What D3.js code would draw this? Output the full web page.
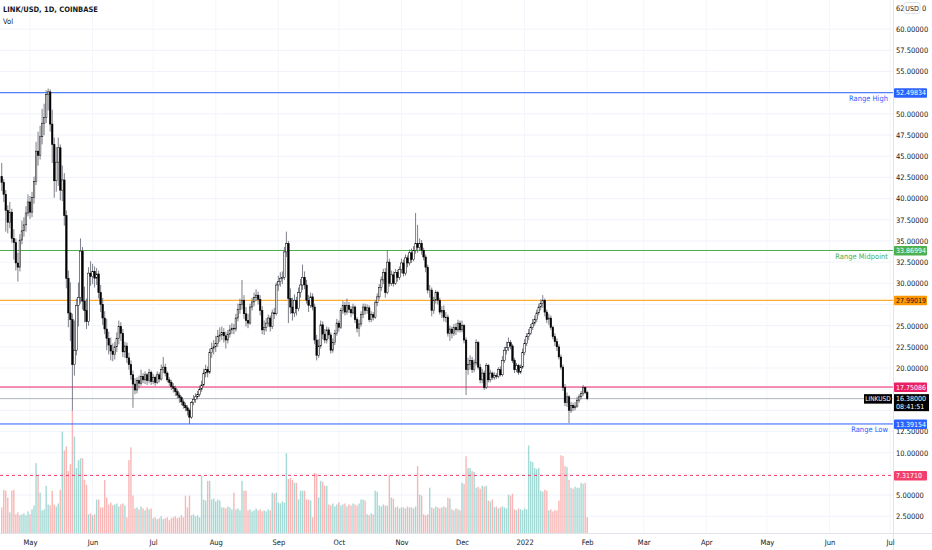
<!DOCTYPE html>
<html>
<head>
<meta charset="utf-8">
<script src="https://cdn.jsdelivr.net/npm/d3@7"></script>
<style>
  body { margin: 0; background: #fff; }
  svg text { font-family: "Liberation Sans Narrow", "DejaVu Sans Condensed", "Liberation Sans", sans-serif; }
</style>
</head>
<body>
<div id="chart"></div>
<script>
// LINK/USD daily candles, 17 Apr 2021 -> 1 Feb 2022
const firstDay = new Date(2021, 3, 17);
const firstOpen = 42.6;

const closes = [
  41.9, 40.5, 38.6, 37.2, 38.4, 35.3, 34.8, 32.4, 31.9, 35.1,
  36.2, 36.9, 38.3, 39.6, 38.4, 40.1, 42.0, 45.6, 45.1, 47.3,
  48.9, 49.6, 52.3, 52.6, 48.8, 46.4, 42.1, 44.3, 46.0, 41.0,
  42.2, 38.0, 30.6, 26.5, 25.7, 20.4, 22.1, 27.4, 28.3, 33.8,
  27.9, 26.8, 25.5, 31.2, 30.8, 31.4, 30.6, 31.1, 28.9, 27.5,
  25.9, 24.6, 23.5, 22.7, 22.0, 21.6, 22.5, 23.5, 24.9, 24.1,
  21.9, 22.6, 21.2, 20.4, 19.2, 18.1, 17.4, 18.5, 18.2, 19.0,
  18.6, 19.2, 18.5, 19.5, 18.4, 18.9, 18.3, 19.2, 18.7, 19.8,
  20.1, 19.4, 18.6, 18.3, 17.8, 17.6, 17.2, 16.8, 16.5, 16.0,
  15.6, 15.3, 15.0, 14.2, 15.9, 16.3, 16.6, 16.9, 17.5, 18.0,
  19.4, 19.8, 19.5, 21.8, 22.3, 22.5, 22.9, 23.7, 23.9, 24.2,
  23.8, 23.3, 24.0, 24.5, 24.7, 24.6, 25.9, 26.9, 27.5, 28.0,
  26.4, 25.6, 25.3, 27.2, 27.8, 28.3, 28.6, 28.1, 26.8, 24.5,
  24.8, 25.3, 25.9, 24.9, 26.5, 26.4, 29.8, 30.2, 30.6, 30.7,
  33.7, 34.7, 28.2, 27.2, 26.5, 28.0, 27.0, 28.9, 29.8, 30.7,
  29.8, 28.0, 27.4, 28.4, 27.2, 23.3, 21.5, 22.6, 25.1, 24.0,
  23.3, 24.5, 23.9, 22.1, 23.0, 24.1, 25.3, 24.8, 26.8, 27.4,
  26.6, 27.4, 26.9, 26.5, 27.2, 25.7, 24.7, 25.2, 26.3, 27.2,
  26.8, 27.1, 25.7, 26.3, 26.0, 27.7, 28.4, 29.5, 30.4, 31.3,
  28.9, 32.5, 30.0, 31.0, 30.0, 31.3, 30.7, 31.6, 32.4, 31.2,
  33.0, 32.4, 33.6, 32.8, 33.9, 34.7, 34.2, 34.7, 33.9, 33.1,
  31.9, 29.2, 29.2, 26.8, 28.0, 28.9, 28.0, 26.6, 26.8, 26.0,
  26.0, 24.1, 24.6, 24.1, 24.8, 24.5, 25.3, 24.5, 25.0, 23.3,
  19.8, 20.4, 20.9, 19.8, 20.6, 23.0, 20.1, 18.6, 19.4, 17.7,
  20.3, 18.6, 19.4, 18.9, 19.1, 19.0, 19.8, 19.2, 20.9, 22.1,
  22.4, 23.0, 22.6, 20.9, 19.8, 20.3, 19.5, 20.1, 21.8, 22.9,
  23.7, 24.1, 24.8, 25.3, 25.7, 26.5, 27.2, 27.6, 28.0, 26.6,
  25.7, 25.9, 24.8, 23.7, 23.1, 22.5, 21.3, 20.1, 17.7, 15.9,
  16.6, 15.0, 15.6, 15.3, 15.5, 16.2, 16.6, 17.0, 17.7, 17.1, 16.38
];

const highs = [
  44.2, 42.3, 41.0, 39.2, 39.6, 38.8, 36.4, 35.3, 33.6, 35.8,
  37.4, 37.8, 39.1, 40.5, 40.3, 40.8, 42.6, 46.7, 47.9, 48.6,
  50.6, 51.2, 52.8, 53.0, 52.9, 50.5, 47.2, 46.1, 47.2, 46.4,
  43.9, 43.0, 38.6, 31.5, 30.1, 26.4, 25.6, 28.2, 30.1, 35.3,
  34.3, 29.6, 28.2, 31.9, 32.6, 32.3, 32.0, 31.8, 31.5, 29.8,
  28.3, 26.7, 25.8, 24.3, 23.6, 22.9, 23.1, 24.2, 25.6, 25.4,
  24.6, 23.1, 23.0, 21.8, 20.9, 19.7, 18.8, 18.9, 19.1, 19.8,
  19.4, 19.6, 19.4, 19.9, 19.7, 19.3, 19.1, 19.6, 19.5, 20.4,
  21.3, 20.5, 19.6, 18.9, 18.6, 18.2, 17.9, 17.5, 17.1, 16.7,
  16.3, 15.9, 15.6, 15.2, 16.1, 16.8, 17.0, 17.3, 17.9, 18.5,
  19.9, 20.4, 20.2, 22.3, 23.0, 23.3, 23.8, 24.5, 24.8, 24.9,
  24.7, 24.3, 24.5, 25.1, 25.3, 25.2, 26.4, 27.6, 28.2, 30.4,
  28.6, 27.2, 26.4, 27.6, 28.3, 28.9, 29.3, 29.0, 28.6, 27.3,
  25.6, 25.9, 26.3, 26.2, 26.9, 27.1, 30.1, 30.9, 31.3, 31.4,
  34.3, 36.1, 35.0, 29.4, 28.3, 28.7, 28.4, 29.5, 30.5, 32.2,
  31.4, 30.4, 28.6, 28.9, 28.8, 27.6, 23.9, 23.4, 25.6, 25.5,
  24.6, 24.9, 24.8, 24.2, 23.5, 24.5, 25.8, 25.6, 27.1, 27.9,
  27.8, 28.2, 27.8, 27.3, 27.6, 27.4, 26.0, 25.7, 26.7, 27.6,
  27.6, 27.5, 27.4, 26.7, 26.6, 28.0, 28.8, 29.9, 30.8, 31.7,
  31.8, 33.9, 32.9, 31.5, 31.4, 31.7, 31.6, 32.0, 32.9, 32.8,
  33.4, 33.3, 34.0, 34.1, 34.4, 38.3, 36.9, 35.3, 35.1, 34.2,
  33.4, 32.2, 29.8, 29.5, 28.4, 29.2, 29.1, 28.3, 27.3, 27.4,
  26.6, 26.3, 25.0, 24.9, 25.2, 25.3, 25.7, 25.6, 25.6, 25.2,
  23.6, 21.2, 21.5, 21.3, 21.0, 23.4, 23.2, 20.5, 19.9, 19.7,
  20.6, 20.5, 19.8, 19.6, 19.5, 19.4, 20.1, 20.2, 21.4, 22.5,
  23.1, 23.6, 23.3, 22.8, 21.2, 20.6, 20.5, 20.4, 22.3, 23.4,
  24.1, 24.6, 25.2, 25.8, 26.2, 26.9, 27.6, 28.1, 28.6, 28.2,
  26.9, 26.4, 26.2, 25.0, 24.1, 23.5, 22.8, 21.6, 20.4, 18.1,
  17.1, 16.8, 16.0, 15.9, 16.0, 16.6, 16.9, 17.3, 18.0, 17.8, 17.3
];

const lows = [
  40.9, 39.6, 36.1, 35.9, 36.5, 34.8, 32.8, 31.5, 30.2, 31.4,
  34.6, 35.5, 36.1, 37.9, 37.6, 37.8, 39.4, 41.6, 43.9, 44.6,
  46.4, 47.5, 48.9, 50.4, 47.9, 44.2, 40.1, 40.8, 41.5, 39.8,
  39.7, 36.8, 29.4, 24.8, 23.2, 15.0, 19.1, 21.5, 24.9, 27.6,
  26.9, 25.4, 24.6, 25.0, 29.7, 29.9, 29.5, 29.8, 28.2, 26.6,
  25.1, 24.0, 22.1, 21.6, 20.9, 20.8, 21.0, 21.9, 22.8, 23.2,
  21.3, 21.2, 20.6, 19.8, 18.6, 15.3, 16.9, 17.0, 17.6, 17.9,
  18.2, 18.1, 18.0, 18.2, 18.0, 18.1, 17.9, 18.1, 18.3, 18.5,
  19.4, 19.0, 18.3, 17.9, 17.4, 17.1, 16.7, 16.4, 15.9, 15.6,
  15.2, 14.9, 14.4, 13.4, 14.0, 15.6, 15.9, 16.3, 16.6, 17.2,
  17.8, 18.9, 18.9, 19.3, 21.2, 21.6, 21.9, 22.5, 23.1, 23.3,
  23.0, 22.3, 22.9, 23.6, 24.0, 24.0, 24.3, 25.5, 26.4, 26.9,
  25.8, 24.9, 24.7, 25.1, 26.8, 27.3, 27.9, 27.5, 26.2, 24.0,
  23.9, 24.3, 24.9, 24.3, 24.6, 25.8, 26.2, 29.1, 29.6, 29.9,
  30.4, 33.1, 25.3, 26.4, 25.6, 26.0, 26.2, 26.7, 28.3, 29.2,
  29.3, 27.6, 26.6, 27.1, 26.8, 22.8, 20.9, 21.2, 22.3, 23.4,
  22.9, 22.9, 23.4, 21.7, 21.8, 22.7, 23.8, 24.3, 24.6, 26.4,
  26.2, 26.3, 26.5, 26.0, 26.3, 25.3, 24.2, 23.7, 24.9, 25.9,
  26.3, 26.4, 25.4, 25.4, 25.6, 25.8, 27.3, 28.1, 29.1, 29.9,
  28.3, 28.7, 29.6, 29.7, 29.6, 29.8, 30.2, 30.4, 31.2, 30.8,
  30.9, 31.9, 32.1, 32.4, 32.6, 33.5, 33.6, 33.8, 33.4, 32.7,
  31.3, 28.8, 28.3, 26.1, 26.4, 27.6, 27.5, 26.3, 25.9, 25.5,
  25.4, 23.7, 23.2, 23.5, 23.8, 23.9, 24.2, 24.2, 24.2, 22.9,
  16.8, 19.2, 19.8, 19.4, 19.5, 20.3, 19.8, 18.2, 18.2, 17.4,
  17.5, 18.3, 18.3, 18.6, 18.6, 18.7, 18.8, 19.0, 19.0, 20.6,
  21.6, 22.0, 22.2, 20.6, 19.4, 19.5, 19.2, 19.3, 19.9, 21.5,
  22.6, 23.3, 23.9, 24.5, 25.0, 25.4, 26.2, 26.8, 27.1, 26.1,
  25.3, 25.1, 24.5, 23.4, 22.6, 22.0, 21.0, 19.8, 17.3, 15.5,
  15.4, 13.5, 14.7, 14.9, 15.0, 15.3, 15.9, 16.3, 16.7, 16.9, 16.2
];

// volume, millions
const volumes = [
  2.6, 4.4, 4.3, 3.6, 2.1, 4.3, 4.4, 1.9, 2.1, 1.8,
  1.9, 2.0, 1.8, 2.2, 1.9, 2.4, 2.8, 7.1, 5.9, 4.1,
  2.3, 2.4, 4.8, 2.9, 2.8, 4.3, 2.9, 2.7, 3.0, 4.4,
  10.3, 8.4, 8.8, 6.3, 7.0, 12.5, 9.8, 6.6, 7.4, 7.6,
  7.6, 5.4, 4.9, 1.9, 2.0, 1.8, 1.9, 3.4, 3.4, 2.6,
  2.6, 5.4, 3.6, 2.9, 3.1, 2.8, 2.9, 3.0, 2.7, 2.9,
  3.0, 2.8, 1.6, 7.4, 8.7, 3.8, 2.5, 2.6, 2.4, 2.7,
  2.5, 2.3, 2.6, 2.4, 2.5, 1.5, 1.6, 1.4, 1.5, 1.7,
  1.4, 1.5, 1.6, 1.3, 1.5, 1.6, 1.7, 1.5, 1.6, 1.8,
  1.6, 3.8, 2.6, 3.8, 1.8, 1.9, 1.7, 1.8, 1.6, 5.8,
  3.4, 3.3, 5.3, 5.3, 3.4, 3.5, 3.2, 3.4, 3.3, 2.6,
  2.6, 2.5, 2.7, 2.6, 2.4, 4.1, 2.4, 2.5, 2.3, 5.3,
  4.3, 4.3, 2.3, 2.4, 2.2, 2.3, 2.5, 2.3, 2.4, 2.2,
  2.3, 2.2, 2.4, 2.3, 4.1, 4.0, 4.1, 3.1, 3.0, 3.2,
  3.1, 8.1, 5.5, 5.6, 5.4, 5.1, 5.1, 3.4, 4.3, 4.3,
  4.3, 3.4, 3.4, 3.3, 1.6, 6.1, 6.0, 3.6, 5.3, 5.2,
  4.8, 4.8, 2.9, 2.8, 3.0, 2.7, 2.9, 3.1, 2.8, 2.9,
  3.0, 2.7, 2.9, 2.8, 3.0, 2.9, 2.8, 3.0, 3.4, 3.4,
  3.3, 1.9, 1.8, 2.0, 1.9, 4.3, 4.2, 2.8, 2.7, 2.9,
  2.8, 2.8, 5.9, 3.6, 3.5, 2.6, 2.7, 2.5, 2.6, 2.6,
  2.5, 2.7, 2.6, 2.6, 2.5, 2.7, 6.8, 3.9, 3.8, 1.9,
  1.8, 1.9, 4.6, 2.6, 2.5, 2.7, 2.6, 2.5, 2.6, 2.7,
  2.6, 3.6, 3.5, 2.4, 2.3, 2.5, 2.4, 2.3, 5.1, 5.0,
  7.8, 6.6, 6.6, 6.3, 6.2, 4.6, 4.7, 4.5, 4.8, 4.7,
  4.8, 3.3, 3.2, 3.4, 2.6, 2.7, 2.5, 2.6, 2.7, 2.6,
  2.5, 3.9, 3.8, 4.0, 2.4, 2.3, 2.5, 2.4, 2.3, 2.5,
  2.4, 8.9, 7.3, 7.2, 6.6, 6.5, 6.6, 4.3, 4.2, 4.4,
  4.3, 2.3, 2.4, 2.2, 2.3, 2.3, 3.3, 7.9, 7.8, 6.8,
  6.7, 5.4, 4.6, 4.5, 4.7, 4.6, 4.6, 5.1, 5.0, 5.1, 1.6
];

// horizontal levels drawn on the chart
const levelValues = [52.49834, 33.86994, 27.99019, 17.75086, 13.39154, 7.31710];
const levelNames  = ["Range High", "Range Midpoint", "", "", "Range Low", ""];
const lastPrice = 16.38;
const countdown = "08:41:51";
// axis ticks (ones hidden behind the coloured price tags are left out)
const yTicks = [2.5, 5, 10, 12.5, 20, 22.5, 25, 30, 32.5, 35,
                37.5, 40, 42.5, 45, 47.5, 50, 55, 57.5, 60];
const gridTicks = [2.5, 5, 7.5, 10, 12.5, 15, 17.5, 20, 22.5, 25, 27.5, 30, 32.5, 35,
                   37.5, 40, 42.5, 45, 47.5, 50, 52.5, 55, 57.5, 60];

const levelColors = ["#2962ff", "#4caf50", "#ff9800", "#e91e63", "#2962ff", "#f23f6c"];

const width = 932, height = 550;
const plotRight = 893, plotBottom = 533;

const data = closes.map((c, i) => {
  const open = i === 0 ? firstOpen : closes[i - 1];
  return {date: d3.timeDay.offset(firstDay, i), open: open, close: c,
          high: highs[i], low: lows[i], vol: volumes[i]};
});

const svg = d3.select("#chart").append("svg")
  .attr("width", width).attr("height", height);

svg.append("rect").attr("width", width).attr("height", height).attr("fill", "#fff");

const x = d3.scaleTime()
  .domain([new Date(2021, 4, 1), new Date(2022, 6, 1)])
  .range([30, 890]);
const y = d3.scaleLinear().domain([0, 62.5]).range([537.4, 8]);
const yVol = d3.scaleLinear().domain([0, 12.5]).range([plotBottom, 410]);

const months = d3.timeMonth.range(new Date(2021, 4, 1), new Date(2022, 6, 2));

// grid
const grid = svg.append("g");
grid.selectAll(".hg").data(gridTicks).join("line")
  .attr("x1", 0).attr("x2", plotRight)
  .attr("y1", d => y(d)).attr("y2", d => y(d))
  .attr("stroke", "#f0f3fa").attr("stroke-width", 1);
grid.selectAll(".vg").data(months).join("line")
  .attr("x1", d => x(d)).attr("x2", d => x(d))
  .attr("y1", 0).attr("y2", plotBottom)
  .attr("stroke", "#f4f6fb").attr("stroke-width", 1);

// volume
const bw = 1.4;
svg.append("g").selectAll("rect").data(data).join("rect")
  .attr("x", d => x(d.date) - bw / 2)
  .attr("width", bw)
  .attr("y", d => yVol(d.vol))
  .attr("height", d => plotBottom - yVol(d.vol))
  .attr("fill", d => d.close >= d.open ? "#26a69a" : "#ef5350")
  .attr("opacity", 0.42);

// levels
const lv = svg.append("g");
levelValues.forEach((v, i) => {
  lv.append("line")
    .attr("x1", 0).attr("x2", plotRight)
    .attr("y1", y(v)).attr("y2", y(v))
    .attr("stroke", levelColors[i]).attr("stroke-width", 1)
    .attr("stroke-dasharray", i === 5 ? "3,3" : null);
  if (levelNames[i]) {
    lv.append("text")
      .attr("x", 888).attr("y", y(v) + 8)
      .attr("text-anchor", "end")
      .attr("font-size", 7.5)
      .attr("fill", levelColors[i])
      .text(levelNames[i]);
  }
});
// last price line
lv.append("line")
  .attr("x1", 0).attr("x2", plotRight)
  .attr("y1", y(lastPrice)).attr("y2", y(lastPrice))
  .attr("stroke", "#b2b5be").attr("stroke-width", 1);

// candles
const cg = svg.append("g");
cg.selectAll("line").data(data).join("line")
  .attr("x1", d => x(d.date)).attr("x2", d => x(d.date))
  .attr("y1", d => y(d.high)).attr("y2", d => y(d.low))
  .attr("stroke", "#5d606b").attr("stroke-width", 0.8);
cg.selectAll("rect").data(data).join("rect")
  .attr("x", d => x(d.date) - 0.8)
  .attr("width", 1.6)
  .attr("y", d => y(Math.max(d.open, d.close)))
  .attr("height", d => Math.max(0.6, Math.abs(y(d.open) - y(d.close))))
  .attr("fill", d => d.close >= d.open ? "#ffffff" : "#000000")
  .attr("stroke", "#000").attr("stroke-width", 0.5);

// axes frame
svg.append("rect").attr("x", plotRight).attr("y", 0)
  .attr("width", width - plotRight).attr("height", height).attr("fill", "#fff");
svg.append("rect").attr("x", 0).attr("y", plotBottom)
  .attr("width", width).attr("height", height - plotBottom).attr("fill", "#fff");
svg.append("line").attr("x1", plotRight + 0.5).attr("x2", plotRight + 0.5)
  .attr("y1", 0).attr("y2", height).attr("stroke", "#e0e3eb");
svg.append("line").attr("x1", 0).attr("x2", width)
  .attr("y1", plotBottom + 0.5).attr("y2", plotBottom + 0.5).attr("stroke", "#e0e3eb");

// right price axis
const yAxis = d3.axisRight(y).tickValues(yTicks).tickSize(0).tickPadding(3)
  .tickFormat(d3.format(".5f"));
const ya = svg.append("g").attr("transform", `translate(${plotRight},0)`).call(yAxis);
ya.select(".domain").remove();
ya.selectAll("text").attr("font-size", 7.5).attr("fill", "#131722")
  .style("font-family", "'Liberation Sans Narrow', 'DejaVu Sans Condensed', sans-serif");

// top: 62 | USD | 0
svg.append("text").attr("x", 896).attr("y", y(62.5) + 2.6)
  .attr("font-size", 7.5).attr("fill", "#131722").text("62");
svg.append("rect").attr("x", 904).attr("y", y(62.5) - 5.5).attr("width", 16).attr("height", 11)
  .attr("rx", 2).attr("fill", "#fff").attr("stroke", "#e0e3eb");
svg.append("text").attr("x", 912).attr("y", y(62.5) + 2.6).attr("text-anchor", "middle")
  .attr("font-size", 7).attr("fill", "#131722").text("USD");
svg.append("text").attr("x", 922).attr("y", y(62.5) + 2.6)
  .attr("font-size", 7.5).attr("fill", "#131722").text("0");

// level labels on axis
const fmt = d3.format(".5f");
levelValues.forEach((v, i) => {
  svg.append("rect").attr("x", plotRight + 1).attr("y", y(v) - 4.5)
    .attr("width", 33).attr("height", 9.5).attr("rx", 1)
    .attr("fill", levelColors[i]);
  svg.append("text").attr("x", plotRight + 3).attr("y", y(v) + 2.6)
    .attr("font-size", 7).attr("fill", i === 2 ? "#131722" : "#fff")
    .text(fmt(v));
});
// last price box
svg.append("rect").attr("x", plotRight + 1).attr("y", y(lastPrice) - 4.5)
  .attr("width", 35).attr("height", 17).attr("fill", "#000");
svg.append("text").attr("x", plotRight + 3).attr("y", y(lastPrice) + 2.6)
  .attr("font-size", 7).attr("fill", "#fff").text(fmt(lastPrice));
svg.append("text").attr("x", plotRight + 3).attr("y", y(lastPrice) + 10.2)
  .attr("font-size", 7).attr("fill", "#fff").text(countdown);
svg.append("rect").attr("x", 864).attr("y", y(lastPrice) - 4.5)
  .attr("width", 28).attr("height", 9.5).attr("fill", "#000");
svg.append("text").attr("x", 878).attr("y", y(lastPrice) + 2.5).attr("text-anchor", "middle")
  .attr("font-size", 6.5).attr("fill", "#fff").text("LINKUSD");

// bottom time axis
const xAxis = d3.axisBottom(x).tickValues(months).tickSize(0).tickPadding(7)
  .tickFormat(d => d.getMonth() === 0 ? d3.timeFormat("%Y")(d) : d3.timeFormat("%b")(d));
const xa = svg.append("g").attr("transform", `translate(0,${plotBottom})`).call(xAxis);
xa.select(".domain").remove();
xa.selectAll("text").attr("font-size", 7.5).attr("fill", "#131722")
  .style("font-family", "'Liberation Sans Narrow', 'DejaVu Sans Condensed', sans-serif");

// legend
svg.append("text").attr("x", 3).attr("y", 12)
  .attr("font-size", 7.5).attr("font-weight", "bold").attr("fill", "#131722")
  .text("LINK/USD, 1D, COINBASE");
svg.append("text").attr("x", 3).attr("y", 24)
  .attr("font-size", 7.5).attr("fill", "#131722").text("Vol");
</script>
</body>
</html>
